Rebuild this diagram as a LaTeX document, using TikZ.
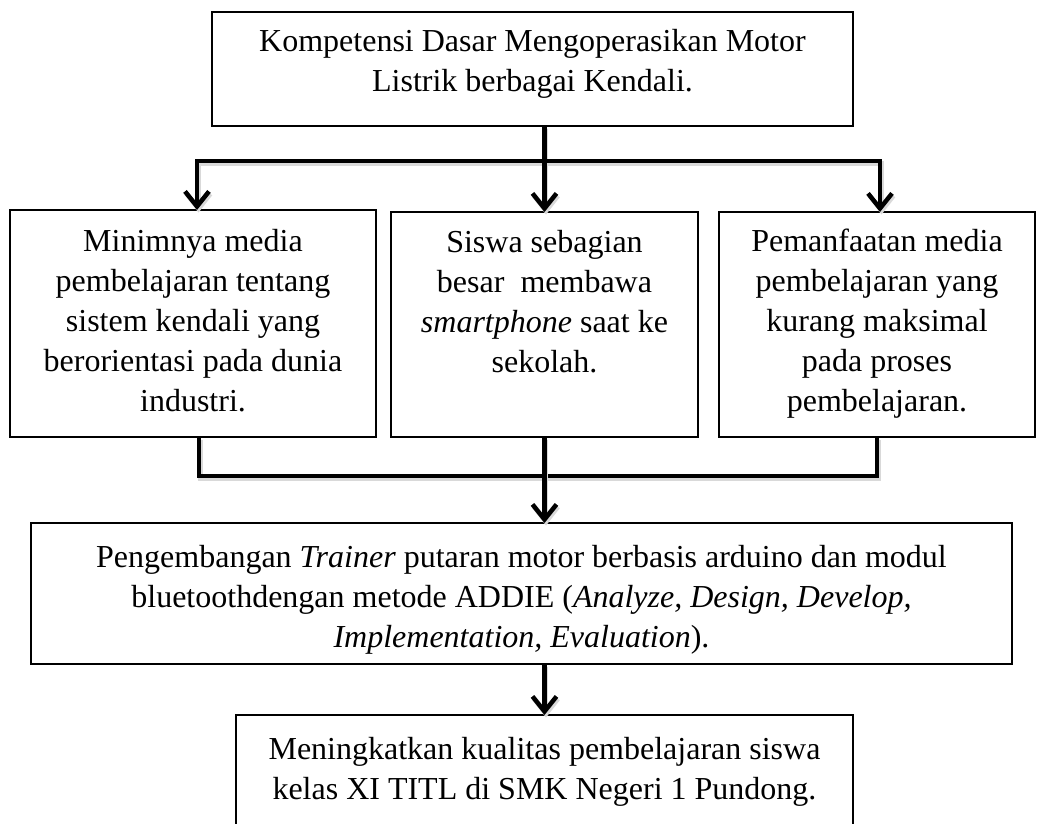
\documentclass[tikz,border=0pt]{standalone}
\usepackage{fontspec}
\setmainfont{Liberation Serif}
\usetikzlibrary{arrows.meta}
\newcommand\bxt[4]{\parbox[c][#2][t]{#1}{\centering\vspace*{#3}\strut #4\par}}
\begin{document}
\begin{tikzpicture}[x=1pt,y=-1pt,
  box/.style={draw, line width=1.3pt, inner sep=0pt, outer sep=0pt, anchor=north west,
              font=\fontsize{32}{40}\selectfont},
  conn/.style={line width=4.5pt, line join=miter,
               preaction={draw=black!15, line width=4.5pt, transform canvas={shift={(1.5pt,-2.5pt)}}}},
  tip/.style={-{Straight Barb[length=15pt,width=24pt]}},
  tips/.style={{Straight Barb[length=15pt,width=24pt]}-{Straight Barb[length=15pt,width=24pt]}},
]
\useasboundingbox (0,0) rectangle (1037,823);
\clip (0,0) rectangle (1037,823);

\node[box] (b0) at (212,12) {\bxt{641pt}{114pt}{11pt}{Kompetensi Dasar Mengoperasikan Motor\\Listrik berbagai Kendali.}};
\node[box] (b1) at (10,210) {\bxt{366pt}{227pt}{13pt}{Minimnya media\\pembelajaran tentang\\sistem kendali yang\\berorientasi pada dunia\\industri.}};
\node[box] (b2) at (391,212) {\bxt{307pt}{225pt}{12pt}{Siswa sebagian\\besar~ membawa\\\textit{smartphone} saat ke\\sekolah.}};
\node[box] (b3) at (719,212) {\bxt{316pt}{225pt}{11pt}{Pemanfaatan media\\pembelajaran yang\\kurang maksimal\\pada proses\\pembelajaran.}};
\node[box] (b4) at (31,523) {\bxt{981pt}{141pt}{16pt}{Pengembangan \textit{Trainer} putaran motor berbasis arduino dan modul\\bluetoothdengan metode ADDIE (\textit{Analyze, Design, Develop,}\\\textit{Implementation, Evaluation}).}};
\node[box] (b5) at (236,715) {\bxt{617pt}{130pt}{16pt}{Meningkatkan kualitas pembelajaran siswa\\kelas XI TITL di SMK Negeri 1 Pundong.}};

\coordinate (busT) at (0,161);
\coordinate (busB) at (0,476);

% top distribution
\draw[conn] (b0.south -| b2.north) -- (b2.north |- busT);
\draw[conn, tips] ([xshift=4pt]b1.north) -- ([xshift=4pt]b1.north |- busT)
      -- ([xshift=3pt]b3.north |- busT) -- ([xshift=3pt]b3.north);
\draw[conn, tip] (b2.north |- busT) -- (b2.north);

% bottom collection
\draw[conn] ([xshift=6pt]b1.south) -- ([xshift=6pt]b1.south |- busB)
      -- (b3.south |- busB) -- (b3.south);
\draw[conn, tip] (b2.south) -- (b2.south |- b4.north);

% to result
\draw[conn, tip] (b4.south -| b5.north) -- (b5.north);
\end{tikzpicture}
\end{document}
